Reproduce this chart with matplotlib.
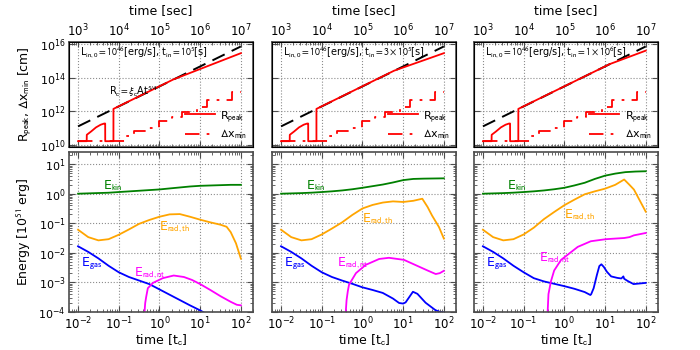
import numpy as np
import matplotlib
matplotlib.use('Agg')
import matplotlib.pyplot as plt
from matplotlib.ticker import LogLocator, NullLocator, NullFormatter

plt.rcParams['mathtext.fontset'] = 'stixsans'
plt.rcParams['font.size'] = 9

# time in units of t_c (t_c = 1e5 s)
t_c_sec = 1e5
t_in_labels = [r'$10^5$', r'$3\times10^5$', r'$1\times10^6$']

# ---- top row: radii, log10 [cm] ----
# black dashed R_c = xi_c A t^(5/4)
rc_t = [0.01, 100]
rc_log = [11.1, 15.85]

# R_peak (red solid), same early part in every run
rpk_early_t = [0.01, 0.0163, 0.0164, 0.021, 0.0276, 0.036, 0.044, 0.0464, 0.0465, 0.074, 0.0741]
rpk_early_log = [10.22, 10.22, 10.6, 10.8, 11.04, 11.2, 11.27, 11.27, 10.22, 10.22, 12.14]
rpk_late_t = [[2.2, 100], [6.0, 100], [13.0, 100]]
rpk_late_log = [[13.89, 15.45], [14.41, 15.45], [14.8, 15.6]]

# Delta x_min staircase (red dash-dot)
dx_edges = [0.01, 0.15, 0.24, 0.5, 1.0, 2.0, 3.5, 8.5, 15, 60, 100]
dx_levels = [10.22, 10.55, 10.85, 11.0, 11.4, 11.65, 11.95, 12.27, 12.65, 13.15]

# ---- bottom row: energies, log10 [1e51 erg], x as log10 t ----
grid_x = [-2, -1.75, -1.5, -1.25, -1, -0.75, -0.5, -0.25, 0, 0.25, 0.5, 0.75, 1, 1.25, 1.5, 1.75, 2]

ekin_log = [
    [0, 0.011, 0.022, 0.033, 0.056, 0.078, 0.1, 0.122, 0.144, 0.178, 0.211, 0.244, 0.267, 0.278, 0.289, 0.3, 0.3],
    [0, 0.01, 0.02, 0.035, 0.056, 0.08, 0.11, 0.15, 0.2, 0.255, 0.31, 0.38, 0.46, 0.5, 0.51, 0.515, 0.52],
    [0, 0.01, 0.02, 0.035, 0.056, 0.08, 0.11, 0.15, 0.2, 0.28, 0.37, 0.5, 0.61, 0.68, 0.73, 0.75, 0.76],
]

erth_x = [
    [-2, -1.75, -1.5, -1.25, -1, -0.75, -0.5, -0.25, 0, 0.25, 0.5, 0.75, 1, 1.25, 1.5, 1.65, 1.75, 1.88, 2],
    [-2, -1.75, -1.5, -1.25, -1, -0.75, -0.5, -0.25, 0, 0.25, 0.5, 0.75, 1, 1.25, 1.47, 1.6, 1.71, 1.88, 2],
    [-2, -1.75, -1.5, -1.25, -1, -0.75, -0.5, -0.25, 0, 0.25, 0.5, 0.75, 1, 1.25, 1.47, 1.6, 1.71, 1.88, 2],
]
erth_log = [
    [-1.22, -1.47, -1.58, -1.54, -1.39, -1.21, -1.02, -0.89, -0.78, -0.7, -0.69, -0.78, -0.88, -0.97, -1.05, -1.12, -1.3, -1.68, -2.2],
    [-1.22, -1.47, -1.58, -1.54, -1.38, -1.18, -0.97, -0.72, -0.5, -0.38, -0.3, -0.26, -0.28, -0.24, -0.17, -0.45, -0.74, -1.13, -1.52],
    [-1.22, -1.47, -1.58, -1.54, -1.38, -1.15, -0.86, -0.62, -0.39, -0.2, -0.02, 0.08, 0.17, 0.3, 0.48, 0.3, 0.14, -0.3, -0.61],
]

egas_x = [
    [-2, -1.75, -1.5, -1.25, -1, -0.75, -0.5, -0.25, 0, 0.25, 0.5, 0.75, 1, 1.25],
    [-2, -1.75, -1.5, -1.25, -1, -0.75, -0.5, -0.25, 0, 0.25, 0.5, 0.75, 0.9, 1.0, 1.06, 1.14, 1.24, 1.35, 1.55, 1.79, 1.9, 2],
    [-2, -1.75, -1.5, -1.25, -1, -0.75, -0.5, -0.25, 0, 0.25, 0.5, 0.64, 0.66, 0.72, 0.8, 0.86, 0.91, 0.97, 1.05, 1.15,
     1.3, 1.4, 1.45, 1.47, 1.55, 1.7, 1.85, 2],
]
egas_log = [
    [-1.78, -1.97, -2.19, -2.44, -2.66, -2.82, -2.94, -3.06, -3.24, -3.42, -3.6, -3.78, -3.95, -4.15],
    [-1.78, -1.97, -2.19, -2.44, -2.66, -2.82, -2.94, -3.05, -3.17, -3.26, -3.36, -3.55, -3.7, -3.72, -3.68, -3.52,
     -3.32, -3.39, -3.69, -3.94, -4.0, -4.02],
    [-1.78, -1.97, -2.19, -2.44, -2.66, -2.86, -2.97, -3.05, -3.13, -3.22, -3.33, -3.43, -3.4, -3.2, -2.75, -2.45,
     -2.39, -2.48, -2.65, -2.8, -2.85, -2.87, -2.8, -2.88, -2.95, -3.06, -3.04, -3.02],
]

ernt_x = [
    [-0.375, -0.367, -0.35, -0.327, -0.286, -0.16, 0.08, 0.35, 0.6, 0.8, 1.0, 1.25, 1.5, 1.75, 1.9, 2],
    [-0.42, -0.41, -0.39, -0.36, -0.33, -0.16, 0.08, 0.41, 0.65, 1.02, 1.39, 1.6, 1.8, 1.9, 2],
    [-0.42, -0.41, -0.39, -0.33, -0.25, -0.08, 0.33, 0.65, 1.02, 1.47, 1.6, 1.71, 2],
]
ernt_log = [
    [-4.5, -4.0, -3.7, -3.5, -3.2, -3.02, -2.86, -2.77, -2.82, -2.92, -3.06, -3.26, -3.47, -3.66, -3.76, -3.78],
    [-4.5, -4.0, -3.6, -3.3, -3.08, -2.69, -2.41, -2.21, -2.17, -2.24, -2.47, -2.6, -2.72, -2.69, -2.61],
    [-4.5, -4.0, -3.4, -2.97, -2.6, -2.24, -1.8, -1.61, -1.54, -1.5, -1.47, -1.41, -1.33],
]

# label positions (log10 E)
erth_lab_y = [-1.13, -0.86, -0.74]
ernt_lab_y = [-2.69, -2.36, -2.19]

lefts = [0.0986, 0.3886, 0.677]
width = 0.263


def style_axis(ax):
    for s in ax.spines.values():
        s.set_color('0.3')
        s.set_linewidth(1.2)
    ax.tick_params(which='both', direction='in', top=True, right=True, color='0.3', labelsize=8, pad=2.5)
    ax.tick_params(which='major', length=4)
    ax.tick_params(which='minor', length=2)
    ax.grid(True, which='major', ls=':', color='0.55', lw=0.8)


def plot_top(ax, i):
    ax.set_xscale('log')
    ax.set_yscale('log')
    ax.plot(rc_t, 10 ** np.array(rc_log), color='k', ls=(0, (7, 4)), lw=1.4)
    ax.plot(rpk_early_t + rpk_late_t[i], 10 ** np.array(rpk_early_log + rpk_late_log[i]),
            color='red', lw=1.3, label=r'R$_{\rm peak}$')
    ax.step(dx_edges, 10 ** np.array(dx_levels + [dx_levels[-1]]), where='post',
            color='red', lw=1.3, ls=(0, (8, 4, 1.5, 4)), label=r'$\Delta$x$_{\rm min}$')
    ax.set_xlim(6e-3, 2e2)
    ax.set_ylim(7.5e9, 1.3e16)
    ax.set_yticks([1e10, 1e12, 1e14, 1e16])
    ax.yaxis.set_minor_locator(NullLocator())
    ax.xaxis.set_minor_locator(LogLocator(subs=np.arange(2, 10)))
    ax.xaxis.set_major_formatter(NullFormatter())
    style_axis(ax)
    ax.tick_params(top=False, labelbottom=False)
    ax.text(0.06, 0.905, r'L$_{\rm in,0}=10^{46}$[erg/s], t$_{\rm in}=$' + t_in_labels[i] + '[s]',
            transform=ax.transAxes, fontsize=7, va='center')
    ax.legend(loc='lower right', frameon=False, fontsize=8, handlelength=2.7,
              borderaxespad=0.15, labelspacing=0.35, handletextpad=0.5)
    if i == 0:
        ax.text(0.058, 10 ** 13.15, r'R$_{\rm c}=\xi_{\rm c}$At$^{5/4}$', fontsize=7, va='center')
        ax.set_ylabel(r'R$_{\rm peak}$, $\Delta$x$_{\rm min}$ [cm]', fontsize=9)
    else:
        ax.yaxis.set_major_formatter(NullFormatter())

    top = ax.twiny()
    top.set_xscale('log')
    top.set_xlim(6e-3 * t_c_sec, 2e2 * t_c_sec)
    top.set_xticks([1e3, 1e4, 1e5, 1e6, 1e7])
    top.xaxis.set_minor_locator(LogLocator(subs=np.arange(2, 10)))
    top.tick_params(which='both', direction='in', color='0.3', labelsize=8.5, pad=2)
    top.tick_params(which='minor', length=2)
    top.set_xlabel('time [sec]', fontsize=9, labelpad=6)


def plot_bottom(ax, i):
    ax.set_xscale('log')
    ax.set_yscale('log')
    gx = 10 ** np.array(grid_x)
    ax.plot(gx, 10 ** np.array(ekin_log[i]), color='green', lw=1.3)
    ax.plot(10 ** np.array(erth_x[i]), 10 ** np.array(erth_log[i]), color='orange', lw=1.3)
    ax.plot(10 ** np.array(egas_x[i]), 10 ** np.array(egas_log[i]), color='blue', lw=1.3)
    ax.plot(10 ** np.array(ernt_x[i]), 10 ** np.array(ernt_log[i]), color='magenta', lw=1.3)
    ax.set_xlim(6e-3, 2e2)
    ax.set_ylim(1e-4, 2.6e1)
    ax.set_xticks([1e-2, 1e-1, 1e0, 1e1, 1e2])
    ax.xaxis.set_minor_locator(LogLocator(subs=np.arange(2, 10)))
    ax.yaxis.set_minor_locator(LogLocator(subs=np.arange(2, 10)))
    style_axis(ax)
    ax.tick_params(axis='x', labelsize=8.5)
    ax.set_xlabel(r'time [t$_{\rm c}$]', fontsize=9, labelpad=0)

    ax.text(0.04, 10 ** 0.26, r'E$_{\rm kin}$', color='green', fontsize=9, va='center')
    ax.text(1.0, 10 ** erth_lab_y[i], r'E$_{\rm rad,th}$', color='orange', fontsize=9, va='center')
    ax.text(0.012, 10 ** -2.36, r'E$_{\rm gas}$', color='blue', fontsize=9, va='center')
    ax.text(0.24, 10 ** ernt_lab_y[i], r'E$_{\rm rad,nt}$', color='magenta', fontsize=9, va='center')
    if i == 0:
        ax.set_ylabel(r'Energy [10$^{51}$ erg]', fontsize=9)
    else:
        ax.yaxis.set_major_formatter(NullFormatter())


if __name__ == '__main__':
    fig = plt.figure(figsize=(7, 3.5), dpi=100)
    for i in range(3):
        ax_top = fig.add_axes([lefts[i], 0.58, width, 0.30])
        plot_top(ax_top, i)
        ax_bot = fig.add_axes([lefts[i], 0.109, width, 0.457])
        plot_bottom(ax_bot, i)
    fig.savefig('out.png', dpi=100)
